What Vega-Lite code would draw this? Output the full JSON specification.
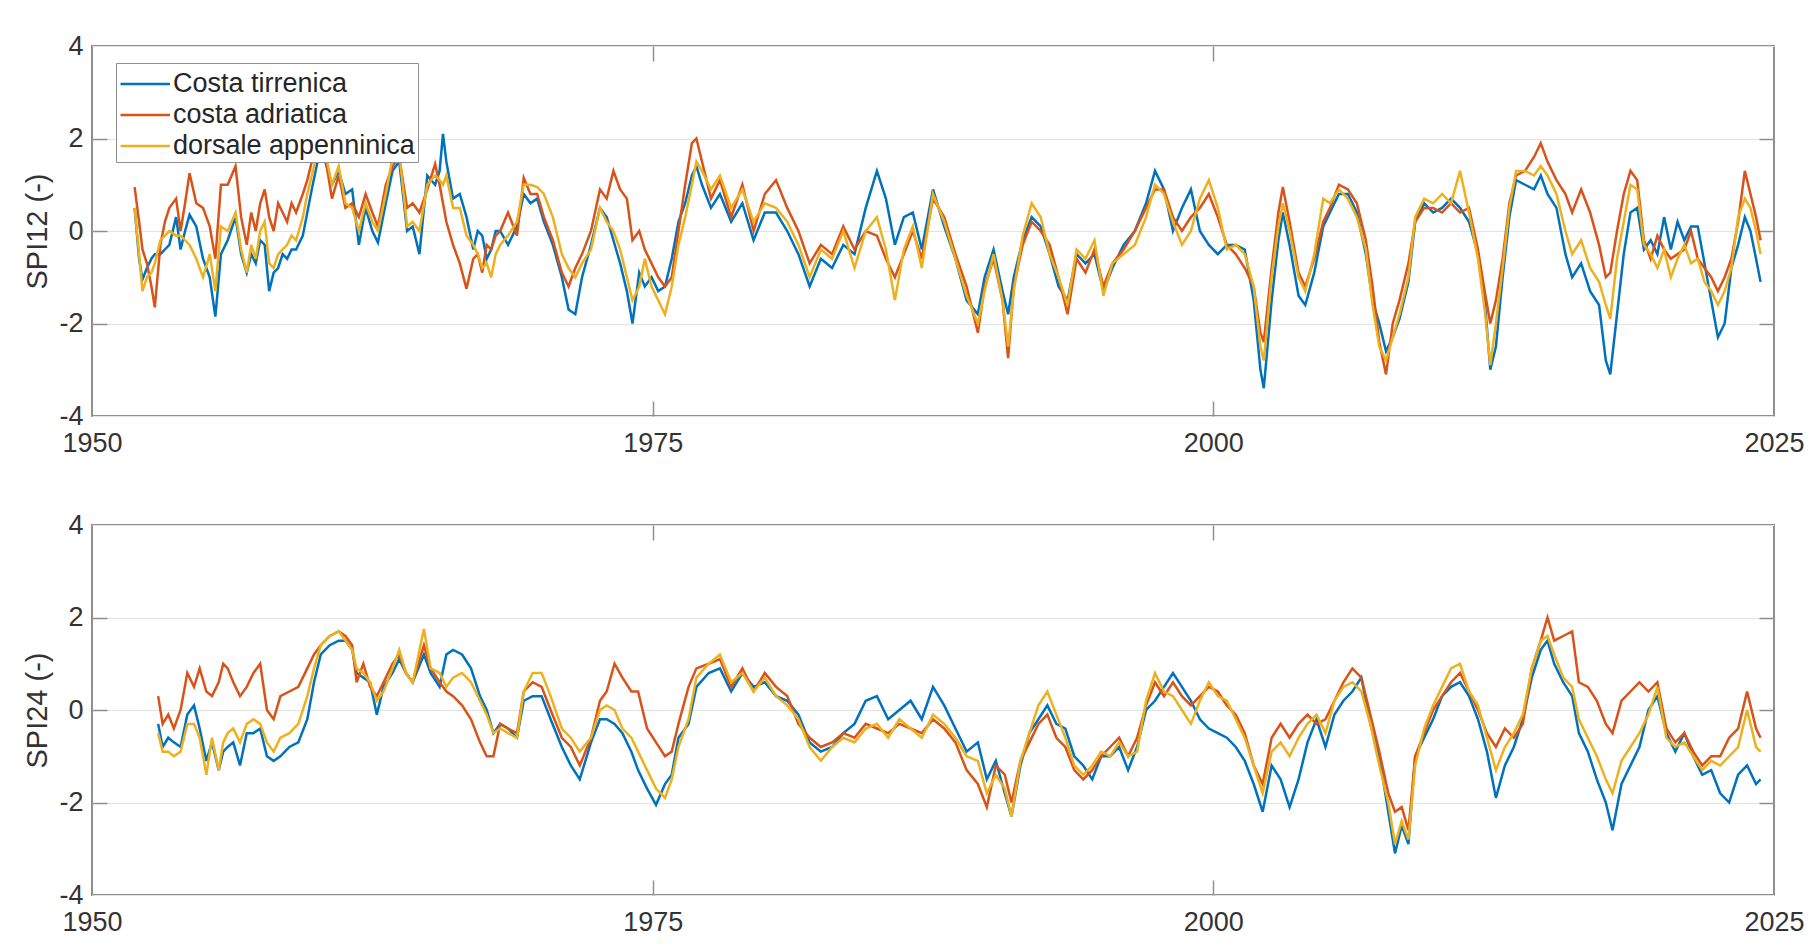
{
"$schema": "https://vega.github.io/schema/vega-lite/v6.json",
"background": "white",
"padding": {"left": 22, "top": 31, "right": 5, "bottom": 5},
"bounds": "flush",
"spacing": 109,
"config": {
  "font": "Liberation Sans",
  "view": {"stroke": "#8f8f8f", "strokeWidth": 2},
  "axis": {"labelFont": "Liberation Sans", "labelFontSize": 27, "labelColor": "#333333", "titleFont": "Liberation Sans", "titleFontSize": 29, "titleFontWeight": "normal", "titleColor": "#333333", "domain": false, "labelFlush": false, "labelOverlap": false, "tickColor": "#8f8f8f", "tickWidth": 1.5},
  "legend": {"labelFont": "Liberation Sans", "labelFontSize": 27, "labelColor": "#262626", "labelLimit": 400, "symbolType": "M-1,0H2", "symbolStrokeWidth": 2.5, "symbolSize": 1089, "rowPadding": 0, "padding": 3, "fillColor": "white", "strokeColor": "#8f8f8f", "labelOffset": 18}
},
"vconcat": [
{
  "width": 1682, "height": 370,
  "data": {"values": [
{"t":1951.9,"a":0.5,"b":0.95,"c":0.5},{"t":1952.1,"a":-0.6,"b":0.2,"c":-0.5},{"t":1952.25,"a":-1.05,"b":-0.4,"c":-1.3},{"t":1952.45,"a":-0.8,"b":-0.7,"c":-1.0},{"t":1952.65,"a":-0.6,"b":-1.2,"c":-0.9},{"t":1952.8,"a":-0.5,"b":-1.65,"c":-0.7},{"t":1953.05,"a":-0.5,"b":-0.3,"c":-0.2},{"t":1953.25,"a":-0.4,"b":0.2,"c":-0.1},{"t":1953.45,"a":-0.3,"b":0.5,"c":0.0},{"t":1953.75,"a":0.3,"b":0.7,"c":-0.1},{"t":1953.95,"a":-0.4,"b":0.0,"c":-0.1},{"t":1954.15,"a":0.0,"b":0.6,"c":-0.2},{"t":1954.35,"a":0.35,"b":1.25,"c":-0.3},{"t":1954.65,"a":0.1,"b":0.6,"c":-0.6},{"t":1954.95,"a":-0.6,"b":0.5,"c":-1.0},{"t":1955.25,"a":-1.0,"b":0.1,"c":-0.5},{"t":1955.5,"a":-1.85,"b":-0.6,"c":-1.3},{"t":1955.75,"a":-0.5,"b":1.0,"c":0.1},{"t":1956.05,"a":-0.2,"b":1.0,"c":0.0},{"t":1956.4,"a":0.3,"b":1.4,"c":0.4},{"t":1956.65,"a":-0.5,"b":0.3,"c":-0.4},{"t":1956.9,"a":-0.9,"b":-0.3,"c":-0.9},{"t":1957.1,"a":-0.5,"b":0.4,"c":-0.3},{"t":1957.3,"a":-0.7,"b":0.0,"c":-0.6},{"t":1957.5,"a":-0.2,"b":0.6,"c":0.0},{"t":1957.7,"a":-0.3,"b":0.9,"c":0.2},{"t":1957.9,"a":-1.3,"b":0.3,"c":-0.7},{"t":1958.1,"a":-0.9,"b":0.0,"c":-0.8},{"t":1958.3,"a":-0.8,"b":0.6,"c":-0.5},{"t":1958.5,"a":-0.5,"b":0.4,"c":-0.4},{"t":1958.7,"a":-0.6,"b":0.2,"c":-0.3},{"t":1958.9,"a":-0.4,"b":0.6,"c":-0.1},{"t":1959.1,"a":-0.4,"b":0.4,"c":-0.2},{"t":1959.4,"a":-0.1,"b":0.8,"c":0.3},{"t":1959.6,"a":0.4,"b":1.1,"c":0.8},{"t":1959.8,"a":0.9,"b":1.5,"c":1.2},{"t":1960.1,"a":1.6,"b":1.9,"c":1.8},{"t":1960.4,"a":1.5,"b":1.6,"c":1.7},{"t":1960.7,"a":1.0,"b":0.7,"c":1.0},{"t":1961.0,"a":1.3,"b":1.2,"c":1.4},{"t":1961.3,"a":0.8,"b":0.5,"c":0.6},{"t":1961.6,"a":0.9,"b":0.6,"c":0.5},{"t":1961.9,"a":-0.3,"b":0.3,"c":0.0},{"t":1962.2,"a":0.5,"b":0.8,"c":0.6},{"t":1962.5,"a":0.0,"b":0.4,"c":0.2},{"t":1962.75,"a":-0.25,"b":0.1,"c":0.0},{"t":1963.1,"a":0.6,"b":1.0,"c":0.8},{"t":1963.4,"a":1.3,"b":1.4,"c":1.6},{"t":1963.7,"a":1.5,"b":1.6,"c":1.7},{"t":1964.05,"a":0.0,"b":0.5,"c":0.1},{"t":1964.3,"a":0.1,"b":0.6,"c":0.2},{"t":1964.6,"a":-0.5,"b":0.4,"c":0.0},{"t":1964.95,"a":1.2,"b":0.9,"c":1.0},{"t":1965.3,"a":1.0,"b":1.45,"c":1.2},{"t":1965.5,"a":1.3,"b":1.0,"c":1.1},{"t":1965.65,"a":2.1,"b":0.6,"c":1.0},{"t":1965.8,"a":1.5,"b":0.2,"c":1.2},{"t":1966.1,"a":0.7,"b":-0.3,"c":0.5},{"t":1966.4,"a":0.8,"b":-0.7,"c":0.5},{"t":1966.7,"a":0.3,"b":-1.25,"c":-0.1},{"t":1967.0,"a":-0.4,"b":-0.6,"c":-0.3},{"t":1967.2,"a":0.0,"b":-0.5,"c":-0.5},{"t":1967.4,"a":-0.1,"b":-0.9,"c":-0.8},{"t":1967.6,"a":-0.6,"b":-0.3,"c":-0.7},{"t":1967.8,"a":-0.4,"b":-0.4,"c":-1.0},{"t":1968.0,"a":0.0,"b":-0.1,"c":-0.5},{"t":1968.2,"a":0.0,"b":0.0,"c":-0.3},{"t":1968.55,"a":-0.3,"b":0.4,"c":-0.1},{"t":1968.95,"a":0.1,"b":-0.1,"c":0.2},{"t":1969.25,"a":0.8,"b":1.15,"c":1.0},{"t":1969.55,"a":0.6,"b":0.8,"c":1.0},{"t":1969.85,"a":0.7,"b":0.8,"c":0.95},{"t":1970.15,"a":0.2,"b":0.3,"c":0.8},{"t":1970.55,"a":-0.3,"b":-0.2,"c":0.3},{"t":1970.95,"a":-1.0,"b":-0.9,"c":-0.5},{"t":1971.25,"a":-1.7,"b":-1.2,"c":-0.8},{"t":1971.55,"a":-1.8,"b":-0.8,"c":-1.0},{"t":1971.85,"a":-1.0,"b":-0.5,"c":-0.7},{"t":1972.25,"a":-0.3,"b":0.0,"c":-0.4},{"t":1972.65,"a":0.5,"b":0.9,"c":0.5},{"t":1972.95,"a":0.3,"b":0.7,"c":0.2},{"t":1973.25,"a":-0.2,"b":1.3,"c":0.0},{"t":1973.55,"a":-0.7,"b":0.9,"c":-0.4},{"t":1973.85,"a":-1.3,"b":0.7,"c":-1.0},{"t":1974.1,"a":-2.0,"b":-0.2,"c":-1.5},{"t":1974.4,"a":-0.9,"b":0.0,"c":-1.2},{"t":1974.65,"a":-1.2,"b":-0.4,"c":-0.6},{"t":1974.95,"a":-1.0,"b":-0.7,"c":-1.2},{"t":1975.25,"a":-1.3,"b":-1.0,"c":-1.5},{"t":1975.55,"a":-1.2,"b":-1.2,"c":-1.8},{"t":1975.85,"a":-0.6,"b":-1.0,"c":-1.2},{"t":1976.15,"a":0.2,"b":0.0,"c":-0.3},{"t":1976.45,"a":0.6,"b":1.0,"c":0.3},{"t":1976.75,"a":1.2,"b":1.9,"c":1.0},{"t":1976.95,"a":1.4,"b":2.0,"c":1.5},{"t":1977.2,"a":1.0,"b":1.5,"c":1.3},{"t":1977.6,"a":0.5,"b":0.7,"c":0.9},{"t":1978.0,"a":0.8,"b":1.1,"c":1.2},{"t":1978.5,"a":0.2,"b":0.3,"c":0.5},{"t":1979.0,"a":0.6,"b":1.0,"c":0.9},{"t":1979.5,"a":-0.2,"b":0.0,"c":0.2},{"t":1980.0,"a":0.4,"b":0.8,"c":0.6},{"t":1980.5,"a":0.4,"b":1.1,"c":0.5},{"t":1981.0,"a":0.0,"b":0.5,"c":0.2},{"t":1981.5,"a":-0.5,"b":0.0,"c":-0.3},{"t":1982.0,"a":-1.2,"b":-0.7,"c":-1.0},{"t":1982.5,"a":-0.6,"b":-0.3,"c":-0.4},{"t":1983.0,"a":-0.8,"b":-0.5,"c":-0.6},{"t":1983.5,"a":-0.3,"b":0.1,"c":0.0},{"t":1984.0,"a":-0.5,"b":-0.4,"c":-0.8},{"t":1984.5,"a":0.5,"b":0.0,"c":0.0},{"t":1985.0,"a":1.3,"b":-0.1,"c":0.3},{"t":1985.4,"a":0.7,"b":-0.6,"c":-0.4},{"t":1985.8,"a":-0.3,"b":-1.0,"c":-1.5},{"t":1986.2,"a":0.3,"b":-0.5,"c":-0.4},{"t":1986.6,"a":0.4,"b":0.0,"c":0.1},{"t":1987.0,"a":-0.4,"b":-0.6,"c":-0.8},{"t":1987.5,"a":0.9,"b":0.7,"c":0.8},{"t":1988.0,"a":0.1,"b":0.3,"c":0.2},{"t":1988.5,"a":-0.6,"b":-0.5,"c":-0.6},{"t":1989.0,"a":-1.5,"b":-1.2,"c":-1.4},{"t":1989.5,"a":-1.8,"b":-2.2,"c":-2.0},{"t":1989.8,"a":-1.0,"b":-1.2,"c":-1.3},{"t":1990.2,"a":-0.4,"b":-0.6,"c":-0.5},{"t":1990.6,"a":-1.3,"b":-1.5,"c":-1.5},{"t":1990.85,"a":-1.8,"b":-2.75,"c":-2.5},{"t":1991.1,"a":-1.0,"b":-1.2,"c":-1.3},{"t":1991.5,"a":-0.2,"b":-0.3,"c":-0.1},{"t":1991.9,"a":0.3,"b":0.2,"c":0.6},{"t":1992.3,"a":0.1,"b":0.0,"c":0.3},{"t":1992.7,"a":-0.5,"b":-0.3,"c":-0.5},{"t":1993.1,"a":-1.2,"b":-1.0,"c":-1.0},{"t":1993.5,"a":-1.5,"b":-1.8,"c":-1.6},{"t":1993.9,"a":-0.5,"b":-0.6,"c":-0.4},{"t":1994.3,"a":-0.7,"b":-0.9,"c":-0.6},{"t":1994.7,"a":-0.5,"b":-0.4,"c":-0.2},{"t":1995.1,"a":-1.3,"b":-1.2,"c":-1.4},{"t":1995.5,"a":-0.8,"b":-0.7,"c":-0.7},{"t":1996.0,"a":-0.3,"b":-0.4,"c":-0.5},{"t":1996.5,"a":0.0,"b":0.0,"c":-0.3},{"t":1997.0,"a":0.6,"b":0.5,"c":0.3},{"t":1997.4,"a":1.3,"b":0.9,"c":1.0},{"t":1997.8,"a":0.9,"b":0.9,"c":0.8},{"t":1998.2,"a":0.0,"b":0.3,"c":0.2},{"t":1998.6,"a":0.5,"b":0.0,"c":-0.3},{"t":1999.0,"a":0.9,"b":0.3,"c":0.0},{"t":1999.4,"a":0.0,"b":0.5,"c":0.7},{"t":1999.8,"a":-0.3,"b":0.8,"c":1.1},{"t":2000.2,"a":-0.5,"b":0.3,"c":0.5},{"t":2000.6,"a":-0.3,"b":-0.3,"c":-0.4},{"t":2001.0,"a":-0.3,"b":-0.5,"c":-0.3},{"t":2001.4,"a":-0.4,"b":-0.8,"c":-0.5},{"t":2001.8,"a":-1.5,"b":-1.2,"c":-1.2},{"t":2002.1,"a":-3.0,"b":-2.2,"c":-2.5},{"t":2002.25,"a":-3.4,"b":-2.4,"c":-2.8},{"t":2002.6,"a":-1.5,"b":-0.8,"c":-1.0},{"t":2002.9,"a":-0.2,"b":0.4,"c":0.1},{"t":2003.1,"a":0.4,"b":0.95,"c":0.6},{"t":2003.4,"a":-0.3,"b":0.2,"c":0.0},{"t":2003.8,"a":-1.4,"b":-0.9,"c":-1.0},{"t":2004.1,"a":-1.6,"b":-1.2,"c":-1.3},{"t":2004.5,"a":-0.9,"b":-0.6,"c":-0.5},{"t":2004.9,"a":0.1,"b":0.2,"c":0.7},{"t":2005.2,"a":0.4,"b":0.5,"c":0.6},{"t":2005.6,"a":0.8,"b":1.0,"c":0.9},{"t":2006.0,"a":0.8,"b":0.9,"c":0.7},{"t":2006.4,"a":0.4,"b":0.6,"c":0.3},{"t":2006.8,"a":-0.5,"b":-0.2,"c":-0.4},{"t":2007.1,"a":-1.5,"b":-1.2,"c":-1.6},{"t":2007.4,"a":-2.0,"b":-2.4,"c":-2.5},{"t":2007.7,"a":-2.6,"b":-3.1,"c":-2.8},{"t":2008.0,"a":-2.3,"b":-2.0,"c":-2.3},{"t":2008.3,"a":-1.9,"b":-1.5,"c":-1.8},{"t":2008.7,"a":-1.1,"b":-0.7,"c":-1.0},{"t":2009.0,"a":0.2,"b":0.2,"c":0.3},{"t":2009.4,"a":0.6,"b":0.5,"c":0.7},{"t":2009.8,"a":0.4,"b":0.5,"c":0.6},{"t":2010.2,"a":0.5,"b":0.4,"c":0.8},{"t":2010.6,"a":0.7,"b":0.6,"c":0.6},{"t":2011.0,"a":0.5,"b":0.4,"c":1.3},{"t":2011.4,"a":0.2,"b":0.5,"c":0.4},{"t":2011.8,"a":-0.5,"b":-0.4,"c":-0.6},{"t":2012.1,"a":-1.5,"b":-1.3,"c":-1.7},{"t":2012.35,"a":-3.0,"b":-2.0,"c":-2.9},{"t":2012.6,"a":-2.5,"b":-1.5,"c":-2.0},{"t":2012.9,"a":-1.0,"b":-0.6,"c":-0.8},{"t":2013.2,"a":0.3,"b":0.6,"c":0.5},{"t":2013.5,"a":1.1,"b":1.2,"c":1.3},{"t":2013.9,"a":1.0,"b":1.3,"c":1.3},{"t":2014.3,"a":0.9,"b":1.6,"c":1.2},{"t":2014.6,"a":1.2,"b":1.9,"c":1.4},{"t":2014.9,"a":0.8,"b":1.5,"c":1.2},{"t":2015.3,"a":0.5,"b":1.1,"c":0.8},{"t":2015.7,"a":-0.5,"b":0.8,"c":0.0},{"t":2016.0,"a":-1.0,"b":0.4,"c":-0.5},{"t":2016.4,"a":-0.7,"b":0.9,"c":-0.2},{"t":2016.8,"a":-1.3,"b":0.4,"c":-0.8},{"t":2017.2,"a":-1.6,"b":-0.3,"c":-1.1},{"t":2017.5,"a":-2.8,"b":-1.0,"c":-1.6},{"t":2017.7,"a":-3.1,"b":-0.9,"c":-1.9},{"t":2018.0,"a":-1.8,"b":0.0,"c":-0.6},{"t":2018.3,"a":-0.5,"b":0.8,"c":0.2},{"t":2018.6,"a":0.4,"b":1.3,"c":1.0},{"t":2018.9,"a":0.5,"b":1.1,"c":0.9},{"t":2019.2,"a":-0.4,"b":-0.2,"c":-0.3},{"t":2019.5,"a":-0.2,"b":-0.6,"c":-0.5},{"t":2019.8,"a":-0.5,"b":-0.1,"c":-0.8},{"t":2020.1,"a":0.3,"b":-0.4,"c":-0.4},{"t":2020.4,"a":-0.4,"b":-0.6,"c":-1.0},{"t":2020.7,"a":0.2,"b":-0.5,"c":-0.6},{"t":2021.0,"a":-0.2,"b":-0.4,"c":-0.3},{"t":2021.3,"a":0.1,"b":0.0,"c":-0.7},{"t":2021.6,"a":0.1,"b":-0.6,"c":-0.6},{"t":2021.9,"a":-0.7,"b":-0.8,"c":-1.1},{"t":2022.2,"a":-1.5,"b":-1.0,"c":-1.3},{"t":2022.5,"a":-2.3,"b":-1.3,"c":-1.6},{"t":2022.8,"a":-2.0,"b":-1.0,"c":-1.3},{"t":2023.1,"a":-0.8,"b":-0.6,"c":-0.8},{"t":2023.4,"a":-0.3,"b":0.2,"c":0.3},{"t":2023.7,"a":0.3,"b":1.3,"c":0.7},{"t":2023.95,"a":0.0,"b":0.8,"c":0.5},{"t":2024.2,"a":-0.6,"b":0.3,"c":0.0},{"t":2024.4,"a":-1.1,"b":-0.2,"c":-0.5}
  ]},
  "transform": [{"fold": ["a", "b", "c"], "as": ["s", "v"]}],
  "resolve": {"axis": {"x": "independent", "y": "independent"}},
  "layer": [
    {"mark": {"type": "line", "strokeWidth": 2.5, "clip": true},
     "encoding": {
       "x": {"field": "t", "type": "quantitative", "scale": {"domain": [1950, 2025], "nice": false, "zero": false},
             "axis": {"values": [1950, 1975, 2000, 2025], "format": "d", "ticks": false, "grid": false, "labelPadding": 14, "title": null}},
       "y": {"field": "v", "type": "quantitative", "scale": {"domain": [-4, 4], "nice": false},
             "axis": {"values": [-4, -2, 0, 2, 4], "labelExpr": "datum.value + ''", "ticks": false, "grid": true, "gridColor": "#e3e3e3", "gridWidth": 1.2, "labelPadding": 9, "title": "SPI12 (-)", "titlePadding": 6}},
       "color": {"field": "s", "type": "nominal", "scale": {"domain": ["a", "b", "c"], "range": ["#0072BD", "#D95319", "#EDB120"]},
                 "legend": {"orient": "none", "legendX": 24, "legendY": 17, "title": null, "labelExpr": "datum.value == 'a' ? 'Costa tirrenica' : datum.value == 'b' ? 'costa adriatica' : 'dorsale appenninica'"}}
     }},
    {"mark": {"type": "point", "opacity": 0},
     "encoding": {
       "x": {"field": "t", "type": "quantitative", "scale": {"domain": [1950, 2025], "nice": false, "zero": false},
             "axis": {"orient": "bottom", "values": [1975, 2000], "labels": false, "grid": false, "tickSize": 15, "offset": -15, "title": null}},
       "y": {"field": "v", "type": "quantitative", "scale": {"domain": [-4, 4], "nice": false},
             "axis": {"orient": "left", "values": [-2, 0, 2], "labels": false, "grid": false, "tickSize": 15, "offset": -15, "title": null}}
     }},
    {"mark": {"type": "point", "opacity": 0},
     "encoding": {
       "x": {"field": "t", "type": "quantitative", "scale": {"domain": [1950, 2025], "nice": false, "zero": false},
             "axis": {"orient": "top", "values": [1975, 2000], "labels": false, "grid": false, "tickSize": 15, "offset": -15, "title": null}},
       "y": {"field": "v", "type": "quantitative", "scale": {"domain": [-4, 4], "nice": false},
             "axis": {"orient": "right", "values": [-2, 0, 2], "labels": false, "grid": false, "tickSize": 15, "offset": -15, "title": null}}
     }}
  ]
},
{
  "width": 1682, "height": 370,
  "data": {"values": [
{"t":1952.95,"a":-0.3,"b":0.3,"c":-0.5},{"t":1953.15,"a":-0.8,"b":-0.3,"c":-0.9},{"t":1953.4,"a":-0.6,"b":-0.1,"c":-0.9},{"t":1953.65,"a":-0.7,"b":-0.4,"c":-1.0},{"t":1953.95,"a":-0.8,"b":0.0,"c":-0.9},{"t":1954.25,"a":-0.1,"b":0.8,"c":-0.3},{"t":1954.55,"a":0.1,"b":0.5,"c":-0.3},{"t":1954.8,"a":-0.4,"b":0.9,"c":-0.6},{"t":1955.1,"a":-1.1,"b":0.4,"c":-1.4},{"t":1955.35,"a":-0.7,"b":0.3,"c":-0.6},{"t":1955.65,"a":-1.3,"b":0.6,"c":-1.3},{"t":1955.85,"a":-0.9,"b":1.0,"c":-0.7},{"t":1956.05,"a":-0.8,"b":0.9,"c":-0.5},{"t":1956.3,"a":-0.7,"b":0.6,"c":-0.4},{"t":1956.6,"a":-1.2,"b":0.3,"c":-0.7},{"t":1956.9,"a":-0.5,"b":0.5,"c":-0.3},{"t":1957.2,"a":-0.5,"b":0.8,"c":-0.2},{"t":1957.5,"a":-0.4,"b":1.0,"c":-0.3},{"t":1957.8,"a":-1.0,"b":0.0,"c":-0.7},{"t":1958.1,"a":-1.1,"b":-0.2,"c":-0.9},{"t":1958.4,"a":-1.0,"b":0.3,"c":-0.6},{"t":1958.8,"a":-0.8,"b":0.4,"c":-0.5},{"t":1959.2,"a":-0.7,"b":0.5,"c":-0.3},{"t":1959.6,"a":-0.2,"b":0.9,"c":0.3},{"t":1959.9,"a":0.6,"b":1.2,"c":0.9},{"t":1960.2,"a":1.2,"b":1.4,"c":1.4},{"t":1960.6,"a":1.4,"b":1.6,"c":1.6},{"t":1961.0,"a":1.5,"b":1.7,"c":1.7},{"t":1961.3,"a":1.5,"b":1.6,"c":1.5},{"t":1961.6,"a":1.3,"b":1.4,"c":1.3},{"t":1961.8,"a":0.8,"b":0.6,"c":0.9},{"t":1962.1,"a":0.7,"b":1.0,"c":0.8},{"t":1962.4,"a":0.6,"b":0.5,"c":0.6},{"t":1962.7,"a":-0.1,"b":0.3,"c":0.2},{"t":1963.0,"a":0.5,"b":0.6,"c":0.4},{"t":1963.4,"a":0.8,"b":1.0,"c":0.9},{"t":1963.7,"a":1.1,"b":1.2,"c":1.3},{"t":1964.0,"a":0.8,"b":0.8,"c":0.8},{"t":1964.3,"a":0.6,"b":0.6,"c":0.6},{"t":1964.8,"a":1.2,"b":1.4,"c":1.75},{"t":1965.1,"a":0.8,"b":0.9,"c":0.9},{"t":1965.5,"a":0.5,"b":0.6,"c":0.8},{"t":1965.8,"a":1.2,"b":0.4,"c":0.5},{"t":1966.1,"a":1.3,"b":0.3,"c":0.7},{"t":1966.5,"a":1.2,"b":0.1,"c":0.8},{"t":1966.9,"a":0.9,"b":-0.2,"c":0.6},{"t":1967.3,"a":0.3,"b":-0.7,"c":0.2},{"t":1967.6,"a":0.0,"b":-1.0,"c":-0.1},{"t":1967.9,"a":-0.5,"b":-1.0,"c":-0.5},{"t":1968.2,"a":-0.3,"b":-0.3,"c":-0.4},{"t":1968.55,"a":-0.4,"b":-0.4,"c":-0.5},{"t":1968.95,"a":-0.6,"b":-0.5,"c":-0.6},{"t":1969.25,"a":0.2,"b":0.4,"c":0.4},{"t":1969.65,"a":0.3,"b":0.6,"c":0.8},{"t":1970.05,"a":0.3,"b":0.5,"c":0.8},{"t":1970.45,"a":-0.2,"b":0.0,"c":0.3},{"t":1970.95,"a":-0.8,"b":-0.6,"c":-0.4},{"t":1971.35,"a":-1.2,"b":-0.8,"c":-0.6},{"t":1971.75,"a":-1.5,"b":-1.2,"c":-0.9},{"t":1972.25,"a":-0.7,"b":-0.6,"c":-0.6},{"t":1972.65,"a":-0.2,"b":0.2,"c":0.0},{"t":1972.95,"a":-0.2,"b":0.4,"c":0.1},{"t":1973.3,"a":-0.3,"b":1.0,"c":0.0},{"t":1973.65,"a":-0.5,"b":0.7,"c":-0.4},{"t":1974.05,"a":-0.9,"b":0.4,"c":-0.6},{"t":1974.35,"a":-1.3,"b":0.4,"c":-0.9},{"t":1974.75,"a":-1.7,"b":-0.4,"c":-1.3},{"t":1975.15,"a":-2.05,"b":-0.7,"c":-1.7},{"t":1975.55,"a":-1.6,"b":-1.0,"c":-1.9},{"t":1975.85,"a":-1.4,"b":-0.9,"c":-1.5},{"t":1976.15,"a":-0.6,"b":-0.3,"c":-0.8},{"t":1976.6,"a":-0.3,"b":0.5,"c":-0.2},{"t":1976.95,"a":0.5,"b":0.9,"c":0.7},{"t":1977.5,"a":0.8,"b":1.0,"c":1.0},{"t":1978.0,"a":0.9,"b":1.1,"c":1.2},{"t":1978.5,"a":0.4,"b":0.5,"c":0.6},{"t":1979.0,"a":0.8,"b":0.9,"c":0.8},{"t":1979.5,"a":0.5,"b":0.4,"c":0.4},{"t":1980.0,"a":0.6,"b":0.8,"c":0.7},{"t":1980.5,"a":0.3,"b":0.5,"c":0.3},{"t":1981.0,"a":0.2,"b":0.3,"c":0.1},{"t":1981.5,"a":-0.1,"b":-0.3,"c":-0.2},{"t":1982.0,"a":-0.7,"b":-0.6,"c":-0.8},{"t":1982.5,"a":-0.9,"b":-0.8,"c":-1.1},{"t":1983.0,"a":-0.8,"b":-0.7,"c":-0.8},{"t":1983.5,"a":-0.5,"b":-0.5,"c":-0.6},{"t":1984.0,"a":-0.3,"b":-0.6,"c":-0.7},{"t":1984.5,"a":0.2,"b":-0.3,"c":-0.4},{"t":1985.0,"a":0.3,"b":-0.4,"c":-0.3},{"t":1985.5,"a":-0.2,"b":-0.5,"c":-0.6},{"t":1986.0,"a":0.0,"b":-0.3,"c":-0.2},{"t":1986.5,"a":0.2,"b":-0.4,"c":-0.4},{"t":1987.0,"a":-0.2,"b":-0.5,"c":-0.6},{"t":1987.5,"a":0.5,"b":-0.2,"c":-0.1},{"t":1988.0,"a":0.1,"b":-0.4,"c":-0.3},{"t":1988.5,"a":-0.4,"b":-0.7,"c":-0.6},{"t":1989.0,"a":-0.9,"b":-1.3,"c":-1.0},{"t":1989.5,"a":-0.7,"b":-1.6,"c":-1.1},{"t":1989.9,"a":-1.5,"b":-2.1,"c":-1.8},{"t":1990.3,"a":-1.1,"b":-1.2,"c":-1.4},{"t":1990.7,"a":-1.8,"b":-1.4,"c":-1.7},{"t":1991.0,"a":-2.3,"b":-2.0,"c":-2.3},{"t":1991.4,"a":-1.2,"b":-1.1,"c":-1.1},{"t":1991.8,"a":-0.5,"b":-0.7,"c":-0.5},{"t":1992.2,"a":-0.2,"b":-0.3,"c":0.1},{"t":1992.6,"a":0.1,"b":-0.1,"c":0.4},{"t":1993.0,"a":-0.3,"b":-0.6,"c":-0.1},{"t":1993.4,"a":-0.4,"b":-0.8,"c":-0.6},{"t":1993.8,"a":-1.0,"b":-1.3,"c":-1.2},{"t":1994.2,"a":-1.2,"b":-1.5,"c":-1.4},{"t":1994.6,"a":-1.5,"b":-1.3,"c":-1.2},{"t":1995.0,"a":-1.0,"b":-1.0,"c":-0.9},{"t":1995.4,"a":-1.0,"b":-0.8,"c":-1.0},{"t":1995.8,"a":-0.8,"b":-0.6,"c":-0.7},{"t":1996.2,"a":-1.3,"b":-1.0,"c":-1.0},{"t":1996.6,"a":-0.8,"b":-0.6,"c":-0.9},{"t":1997.0,"a":0.0,"b":0.1,"c":0.2},{"t":1997.4,"a":0.2,"b":0.6,"c":0.8},{"t":1997.8,"a":0.5,"b":0.3,"c":0.4},{"t":1998.2,"a":0.8,"b":0.6,"c":0.3},{"t":1998.6,"a":0.5,"b":0.3,"c":0.0},{"t":1999.0,"a":0.2,"b":0.1,"c":-0.3},{"t":1999.4,"a":-0.2,"b":0.3,"c":0.2},{"t":1999.8,"a":-0.4,"b":0.5,"c":0.6},{"t":2000.2,"a":-0.5,"b":0.4,"c":0.3},{"t":2000.6,"a":-0.6,"b":0.1,"c":0.2},{"t":2001.0,"a":-0.8,"b":-0.1,"c":-0.2},{"t":2001.4,"a":-1.1,"b":-0.5,"c":-0.6},{"t":2001.8,"a":-1.6,"b":-1.2,"c":-1.2},{"t":2002.2,"a":-2.2,"b":-1.6,"c":-1.8},{"t":2002.6,"a":-1.2,"b":-0.6,"c":-0.9},{"t":2003.0,"a":-1.5,"b":-0.3,"c":-0.7},{"t":2003.4,"a":-2.1,"b":-0.6,"c":-1.0},{"t":2003.8,"a":-1.5,"b":-0.3,"c":-0.6},{"t":2004.2,"a":-0.7,"b":-0.1,"c":-0.3},{"t":2004.6,"a":-0.2,"b":-0.3,"c":-0.1},{"t":2005.0,"a":-0.8,"b":-0.2,"c":-0.5},{"t":2005.4,"a":-0.1,"b":0.2,"c":0.2},{"t":2005.8,"a":0.2,"b":0.6,"c":0.5},{"t":2006.2,"a":0.4,"b":0.9,"c":0.6},{"t":2006.6,"a":0.7,"b":0.7,"c":0.4},{"t":2007.0,"a":-0.3,"b":-0.1,"c":-0.3},{"t":2007.4,"a":-1.0,"b":-0.9,"c":-1.2},{"t":2007.8,"a":-2.2,"b":-1.8,"c":-2.0},{"t":2008.1,"a":-3.1,"b":-2.2,"c":-2.9},{"t":2008.4,"a":-2.5,"b":-2.1,"c":-2.4},{"t":2008.7,"a":-2.9,"b":-2.6,"c":-2.8},{"t":2009.0,"a":-1.0,"b":-1.0,"c":-1.2},{"t":2009.4,"a":-0.6,"b":-0.5,"c":-0.4},{"t":2009.8,"a":-0.2,"b":0.0,"c":0.1},{"t":2010.2,"a":0.3,"b":0.3,"c":0.5},{"t":2010.6,"a":0.5,"b":0.6,"c":0.9},{"t":2011.0,"a":0.6,"b":0.8,"c":1.0},{"t":2011.4,"a":0.3,"b":0.4,"c":0.4},{"t":2011.8,"a":-0.2,"b":0.0,"c":0.1},{"t":2012.2,"a":-0.9,"b":-0.5,"c":-0.6},{"t":2012.6,"a":-1.9,"b":-0.8,"c":-1.3},{"t":2013.0,"a":-1.2,"b":-0.4,"c":-0.8},{"t":2013.4,"a":-0.8,"b":-0.6,"c":-0.5},{"t":2013.8,"a":-0.2,"b":-0.3,"c":-0.1},{"t":2014.2,"a":0.7,"b":0.9,"c":0.9},{"t":2014.6,"a":1.3,"b":1.5,"c":1.5},{"t":2014.9,"a":1.5,"b":2.0,"c":1.6},{"t":2015.2,"a":1.0,"b":1.5,"c":1.2},{"t":2015.6,"a":0.6,"b":1.6,"c":0.7},{"t":2016.0,"a":0.3,"b":1.7,"c":0.5},{"t":2016.3,"a":-0.5,"b":0.6,"c":-0.2},{"t":2016.7,"a":-0.9,"b":0.5,"c":-0.6},{"t":2017.1,"a":-1.5,"b":0.2,"c":-1.0},{"t":2017.5,"a":-2.0,"b":-0.3,"c":-1.5},{"t":2017.8,"a":-2.6,"b":-0.5,"c":-1.8},{"t":2018.2,"a":-1.6,"b":0.2,"c":-1.1},{"t":2018.6,"a":-1.2,"b":0.4,"c":-0.8},{"t":2019.0,"a":-0.8,"b":0.6,"c":-0.5},{"t":2019.4,"a":0.0,"b":0.4,"c":-0.1},{"t":2019.8,"a":0.3,"b":0.6,"c":0.5},{"t":2020.2,"a":-0.5,"b":-0.4,"c":-0.6},{"t":2020.6,"a":-0.9,"b":-0.7,"c":-0.8},{"t":2021.0,"a":-0.5,"b":-0.5,"c":-0.7},{"t":2021.4,"a":-1.0,"b":-0.9,"c":-1.0},{"t":2021.8,"a":-1.4,"b":-1.2,"c":-1.3},{"t":2022.2,"a":-1.3,"b":-1.0,"c":-1.1},{"t":2022.6,"a":-1.8,"b":-1.0,"c":-1.2},{"t":2023.0,"a":-2.0,"b":-0.6,"c":-1.0},{"t":2023.4,"a":-1.4,"b":-0.4,"c":-0.8},{"t":2023.8,"a":-1.2,"b":0.4,"c":0.0},{"t":2024.2,"a":-1.6,"b":-0.4,"c":-0.8},{"t":2024.4,"a":-1.5,"b":-0.6,"c":-0.9}
  ]},
  "transform": [{"fold": ["a", "b", "c"], "as": ["s", "v"]}],
  "resolve": {"axis": {"x": "independent", "y": "independent"}},
  "layer": [
    {"mark": {"type": "line", "strokeWidth": 2.5, "clip": true},
     "encoding": {
       "x": {"field": "t", "type": "quantitative", "scale": {"domain": [1950, 2025], "nice": false, "zero": false},
             "axis": {"values": [1950, 1975, 2000, 2025], "format": "d", "ticks": false, "grid": false, "labelPadding": 14, "title": null}},
       "y": {"field": "v", "type": "quantitative", "scale": {"domain": [-4, 4], "nice": false},
             "axis": {"values": [-4, -2, 0, 2, 4], "labelExpr": "datum.value + ''", "ticks": false, "grid": true, "gridColor": "#e3e3e3", "gridWidth": 1.2, "labelPadding": 9, "title": "SPI24 (-)", "titlePadding": 6}},
       "color": {"field": "s", "type": "nominal", "scale": {"domain": ["a", "b", "c"], "range": ["#0072BD", "#D95319", "#EDB120"]},
                 "legend": {"orient": "none", "legendX": 17, "legendY": 23, "title": null, "labelExpr": "datum.value == 'a' ? 'Costa tirrenica' : datum.value == 'b' ? 'costa adriatica' : 'dorsale appenninica'"}}
     }},
    {"mark": {"type": "point", "opacity": 0},
     "encoding": {
       "x": {"field": "t", "type": "quantitative", "scale": {"domain": [1950, 2025], "nice": false, "zero": false},
             "axis": {"orient": "bottom", "values": [1975, 2000], "labels": false, "grid": false, "tickSize": 15, "offset": -15, "title": null}},
       "y": {"field": "v", "type": "quantitative", "scale": {"domain": [-4, 4], "nice": false},
             "axis": {"orient": "left", "values": [-2, 0, 2], "labels": false, "grid": false, "tickSize": 15, "offset": -15, "title": null}}
     }},
    {"mark": {"type": "point", "opacity": 0},
     "encoding": {
       "x": {"field": "t", "type": "quantitative", "scale": {"domain": [1950, 2025], "nice": false, "zero": false},
             "axis": {"orient": "top", "values": [1975, 2000], "labels": false, "grid": false, "tickSize": 15, "offset": -15, "title": null}},
       "y": {"field": "v", "type": "quantitative", "scale": {"domain": [-4, 4], "nice": false},
             "axis": {"orient": "right", "values": [-2, 0, 2], "labels": false, "grid": false, "tickSize": 15, "offset": -15, "title": null}}
     }}
  ]
}
]
}
